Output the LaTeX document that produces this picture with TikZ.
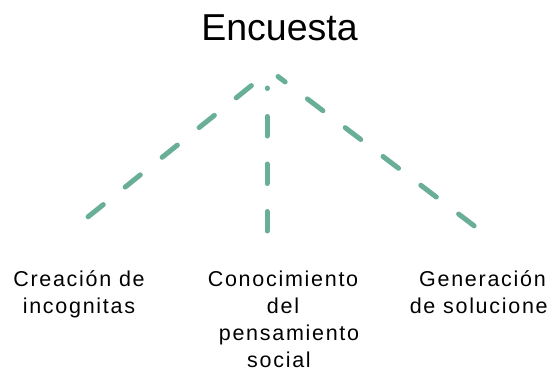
\documentclass[tikz,border=0pt]{standalone}
\usepackage{fontspec}
\setmainfont{Liberation Sans}
\newfontfamily\labfont[LetterSpace=8]{Liberation Sans}
\definecolor{teal1}{RGB}{105,175,152}
\begin{document}
\begin{tikzpicture}[x=1pt,y=-1pt,
  conn/.style={draw=teal1,line width=5pt,line cap=round,dash pattern=on 19.5pt off 28pt},
  lab/.style={inner sep=0pt,align=center,font=\labfont\fontsize{21.5pt}{27.3pt}\selectfont,anchor=base},
  title/.style={inner sep=0pt,font=\fontsize{37.5pt}{40pt}\selectfont,anchor=base}]
\useasboundingbox (0,0) rectangle (547,372);
\node[title] (enc) at (279.5,40.7) {Encuesta};
\node[lab] (c1) at (79,313.3) {Creación de\\incognitas};
\node[lab] (c2) at (283,367.9) {Conocimiento\\del\hspace*{14pt}\\\hspace*{12pt}pensamiento\\social\hspace*{8pt}};
\node[lab] (c3) at (485,313.3) {Generación\hspace*{5pt}\\de soluciones};
\coordinate (la) at (251.4,85.6);
\coordinate (lb) at (87,217.7);
\coordinate (ma) at (267,88);
\coordinate (mb) at (267,231);
\coordinate (ra) at (278,76.5);
\coordinate (rb) at (475,226.5);
\draw[conn] (la) -- (lb);
\draw[conn,dash phase=19pt] (ma) -- (mb);
\draw[conn,dash phase=10.5pt] (ra) -- (rb);
\end{tikzpicture}
\end{document}
